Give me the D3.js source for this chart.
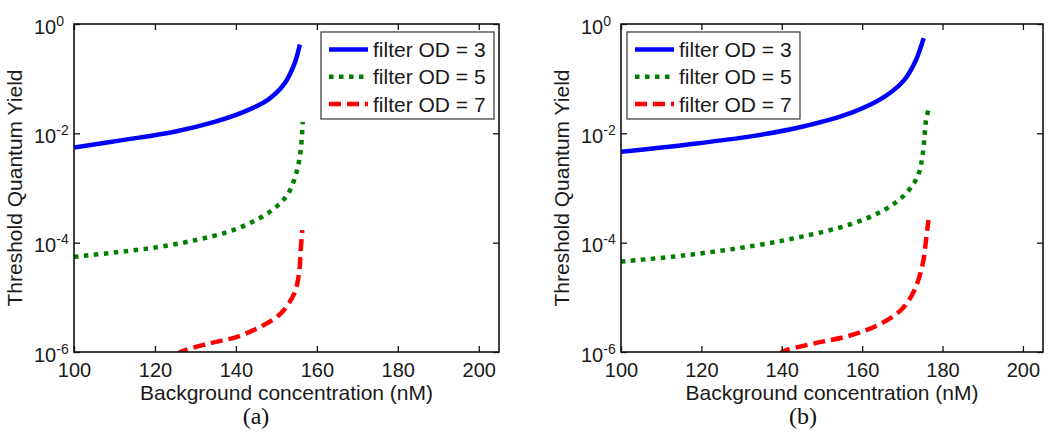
<!DOCTYPE html>
<html>
<head>
<meta charset="utf-8">
<script src="https://cdn.jsdelivr.net/npm/d3@7"></script>
<style>
  body { margin: 0; background: #fff; }
  svg { display: block; font-family: "Liberation Sans", Arial, sans-serif; }
</style>
</head>
<body>
<svg width="1050" height="436"></svg>
<script>
// values (x in nM, y = threshold quantum yield)
const xTicks = [100, 120, 140, 160, 180, 200];
const yTicks = [1, 1e-2, 1e-4, 1e-6];
const seriesNames = ["filter OD = 3", "filter OD = 5", "filter OD = 7"];
const panelLabels = ["(a)", "(b)"];

// panel (a)
const aOD3x = [100, 112.4, 124.8, 134.7, 142.1, 147.9, 152.0, 154.5, 155.8];
const aOD3y = [5.5e-3, 7.6e-3, 1.07e-2, 1.62e-2, 2.5e-2, 4.1e-2, 8.1e-2, 0.19, 0.42];
const aOD5x = [100, 109.9, 119.8, 129.7, 138.0, 144.6, 149.6, 152.9, 154.9, 156.0, 156.5];
const aOD5y = [5.5e-5, 6.6e-5, 8.1e-5, 1.10e-4, 1.58e-4, 2.5e-4, 4.3e-4, 7.9e-4, 1.86e-3, 4.9e-3, 1.62e-2];
const aOD7x = [125.5, 126.3, 133.7, 140.3, 146.1, 151.1, 154.4, 155.6, 156.0, 156.4];
const aOD7y = [8.9e-7, 1.0e-6, 1.45e-6, 1.9e-6, 2.9e-6, 5.1e-6, 1.17e-5, 2.75e-5, 7.2e-5, 1.7e-4];

// panel (b)
const bOD3x = [100, 116.2, 132.7, 145.0, 157.4, 165.6, 170.5, 173.4, 175.3];
const bOD3y = [4.6e-3, 6.2e-3, 8.9e-3, 1.32e-2, 2.4e-2, 4.7e-2, 9.5e-2, 0.22, 0.55];
const bOD5x = [100, 116.2, 132.7, 145.0, 157.4, 165.6, 170.5, 173.8, 175.1, 175.9, 176.6];
const bOD5y = [4.5e-5, 5.9e-5, 8.7e-5, 1.29e-4, 2.2e-4, 4.0e-4, 7.4e-4, 1.62e-3, 4.3e-3, 1.74e-2, 2.9e-2];
const bOD7x = [139.5, 140.1, 148.3, 156.5, 163.9, 169.7, 173.0, 175.1, 175.9, 176.5];
const bOD7y = [8.9e-7, 1.0e-6, 1.45e-6, 1.95e-6, 3.1e-6, 5.9e-6, 1.35e-5, 4.2e-5, 1.12e-4, 2.6e-4];

const styles = [
  { color: "#0000ff", width: 4.5, dash: null },
  { color: "#007f00", width: 4.5, dash: "4.5,5.5" },
  { color: "#ff0000", width: 4.5, dash: "12,6" }
];

const zip = (xs, ys) => xs.map((x, i) => ({ x: x, y: ys[i] }));

const panels = [
  { id: "a", left: 74, right: 499, legendRight: true,
    series: [zip(aOD3x, aOD3y), zip(aOD5x, aOD5y), zip(aOD7x, aOD7y)] },
  { id: "b", left: 621, right: 1043, legendRight: false,
    series: [zip(bOD3x, bOD3y), zip(bOD5x, bOD5y), zip(bOD7x, bOD7y)] }
];

const plotTop = 24, plotBottom = 352;
const svg = d3.select("svg");

panels.forEach(function(p, pi) {
  const x = d3.scaleLinear().domain([100, 205]).range([p.left, p.right]);
  const y = d3.scaleLog().domain([1e-6, 1]).range([plotBottom, plotTop]);

  const g = svg.append("g");

  g.append("clipPath").attr("id", "clip" + p.id)
    .append("rect")
    .attr("x", p.left).attr("y", plotTop)
    .attr("width", p.right - p.left).attr("height", plotBottom - plotTop);

  // curves
  const line = d3.line()
    .x(d => x(d.x))
    .y(d => y(d.y))
    .curve(d3.curveCatmullRom.alpha(0.5));

  p.series.forEach(function(s, i) {
    g.append("path")
      .datum(s)
      .attr("clip-path", "url(#clip" + p.id + ")")
      .attr("fill", "none")
      .attr("stroke", styles[i].color)
      .attr("stroke-width", styles[i].width)
      .attr("stroke-dasharray", styles[i].dash)
      .attr("d", line);
  });

  // axes, ticks pointing inward
  const xb = g.append("g")
    .attr("transform", `translate(0,${plotBottom})`)
    .call(d3.axisBottom(x).tickValues(xTicks).tickSizeInner(-6).tickSizeOuter(0));
  xb.selectAll(".tick text").attr("y", 25).attr("dy", null);

  g.append("g")
    .attr("transform", `translate(0,${plotTop})`)
    .call(d3.axisTop(x).tickValues(xTicks).tickSizeInner(-6).tickSizeOuter(0).tickFormat(""));

  const yl = g.append("g")
    .attr("transform", `translate(${p.left},0)`)
    .call(d3.axisLeft(y).tickValues(yTicks).tickSizeInner(-6).tickSizeOuter(0).tickFormat(""));

  g.append("g")
    .attr("transform", `translate(${p.right},0)`)
    .call(d3.axisRight(y).tickValues(yTicks).tickSizeInner(-6).tickSizeOuter(0).tickFormat(""));

  // 10^n labels
  yl.selectAll(".tick text")
    .attr("x", -40)
    .attr("dy", null)
    .attr("y", 9)
    .attr("text-anchor", "start")
    .each(function(d) {
      const t = d3.select(this);
      t.append("tspan").text("10");
      t.append("tspan")
        .attr("font-size", 14)
        .attr("dy", -8)
        .text(Math.round(Math.log10(d)));
    });

  g.selectAll(".domain").remove();
  g.selectAll(".tick line").attr("stroke", "#111").attr("stroke-width", 1.3);
  g.selectAll(".tick text").attr("font-size", 20).attr("fill", "#1a1a1a")
    .attr("font-family", "Liberation Sans, Arial, sans-serif");

  // frame
  g.append("rect")
    .attr("x", p.left).attr("y", plotTop)
    .attr("width", p.right - p.left).attr("height", plotBottom - plotTop)
    .attr("fill", "none")
    .attr("stroke", "#111")
    .attr("stroke-width", 1.6);

  // axis titles
  g.append("text")
    .attr("x", (p.left + p.right) / 2)
    .attr("y", 400)
    .attr("text-anchor", "middle")
    .attr("font-size", 21)
    .attr("fill", "#1a1a1a")
    .text("Background concentration (nM)");

  g.append("text")
    .attr("transform", `translate(${p.left - 52},${(plotTop + plotBottom) / 2}) rotate(-90)`)
    .attr("text-anchor", "middle")
    .attr("font-size", 21)
    .attr("fill", "#1a1a1a")
    .text("Threshold Quantum Yield");

  g.append("text")
    .attr("x", pi === 0 ? 256 : 803)
    .attr("y", 424)
    .attr("text-anchor", "middle")
    .attr("font-family", "Liberation Serif, Times New Roman, serif")
    .attr("font-size", 24)
    .attr("fill", "#111")
    .text(panelLabels[pi]);

  // legend
  const lw = 173, lh = 87;
  const lx = p.legendRight ? p.right - 5 - lw : p.left + 6;
  const ly = 32;
  const lg = g.append("g").attr("transform", `translate(${lx},${ly})`);
  lg.append("rect")
    .attr("width", lw).attr("height", lh)
    .attr("fill", "#fff")
    .attr("stroke", "#444")
    .attr("stroke-width", 1.3);
  seriesNames.forEach(function(name, i) {
    const cy = 17.5 + i * 27.3;
    lg.append("line")
      .attr("x1", 8).attr("x2", 47)
      .attr("y1", cy).attr("y2", cy)
      .attr("stroke", styles[i].color)
      .attr("stroke-width", styles[i].width)
      .attr("stroke-dasharray", styles[i].dash);
    lg.append("text")
      .attr("x", 52)
      .attr("y", cy + 7.5)
      .attr("font-size", 21)
      .attr("fill", "#1a1a1a")
      .text(name);
  });
});
</script>
</body>
</html>
